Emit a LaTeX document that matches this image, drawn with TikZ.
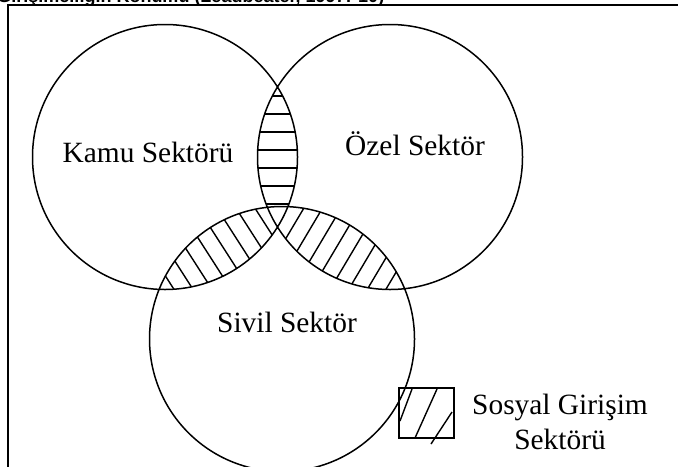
\documentclass[tikz,border=0pt]{standalone}
\usepackage{fontspec}
\setmainfont{Liberation Serif}
\newfontfamily\arialfont{Liberation Sans}
\usetikzlibrary{calc}

\begin{document}
\begin{tikzpicture}[x=0.5pt,y=0.5pt,line width=0.75pt]
  \tikzstyle{sector}=[font=\fontsize{14.7}{17.5}\selectfont,align=center,inner sep=0pt]
  \tikzstyle{hatch}=[line width=0.7pt]
  \def\rad{132.5}

  \useasboundingbox (0,0) rectangle (678,-466);
  \clip (0,0) rectangle (678,-466);

  \coordinate (K) at (165,-157);
  \coordinate (O) at (390,-157);
  \coordinate (S) at (282,-339);

  % cerceve ve baslik
  \draw[line width=1pt] (8,-470) -- (8,-5) -- (682,-5);
  \node[anchor=base east,inner sep=0pt,font=\arialfont\bfseries\fontsize{9}{11}\selectfont] (title) at (385,-2.5)
    {Sosyal Girişimciliğin Konumu (Leadbeater, 1997: 10)};

  % kamu - ozel
  \begin{scope}[even odd rule]
    \clip (K) circle (\rad);
    \clip (O) circle (\rad);
    \clip (0,0) rectangle (678,-466) (S) circle (\rad);
    \foreach \y in {96,114,...,210} \draw[hatch] (240,-\y) -- (320,-\y);
  \end{scope}

  % kamu - sivil
  \begin{scope}[even odd rule]
    \clip (K) circle (\rad);
    \clip (S) circle (\rad);
    \clip (0,0) rectangle (678,-466) (O) circle (\rad);
    \begin{scope}[shift={($(K)!0.5!(S)$)},rotate=-57.3]
      \foreach \t in {-128,-112,...,128} \draw[hatch] (-160,\t) -- (160,\t);
    \end{scope}
  \end{scope}

  % ozel - sivil
  \begin{scope}[even odd rule]
    \clip (O) circle (\rad);
    \clip (S) circle (\rad);
    \clip (0,0) rectangle (678,-466) (K) circle (\rad);
    \begin{scope}[shift={($(O)!0.5!(S)$)},rotate=59.3]
      \foreach \t in {-128,-112,...,128} \draw[hatch] (-160,\t) -- (160,\t);
    \end{scope}
  \end{scope}

  \draw (K) circle (\rad) (O) circle (\rad) (S) circle (\rad);

  \node[sector] (kamu)  at (148,-152) {Kamu Sektörü};
  \node[sector] (ozel)  at (415,-144) {Özel Sektör};
  \node[sector] (sivil) at (287,-322) {Sivil Sektör};

  % lejant
  \draw (399,-388) rectangle (454,-438);
  \draw[hatch] (400,-421) -- (412,-389);
  \draw[hatch] (415,-438) -- (437,-389);
  \draw[hatch] (431,-444) -- (452,-412);
  \node[sector] (legend) at (560,-422) {Sosyal Girişim\\Sektörü};
\end{tikzpicture}
\end{document}
